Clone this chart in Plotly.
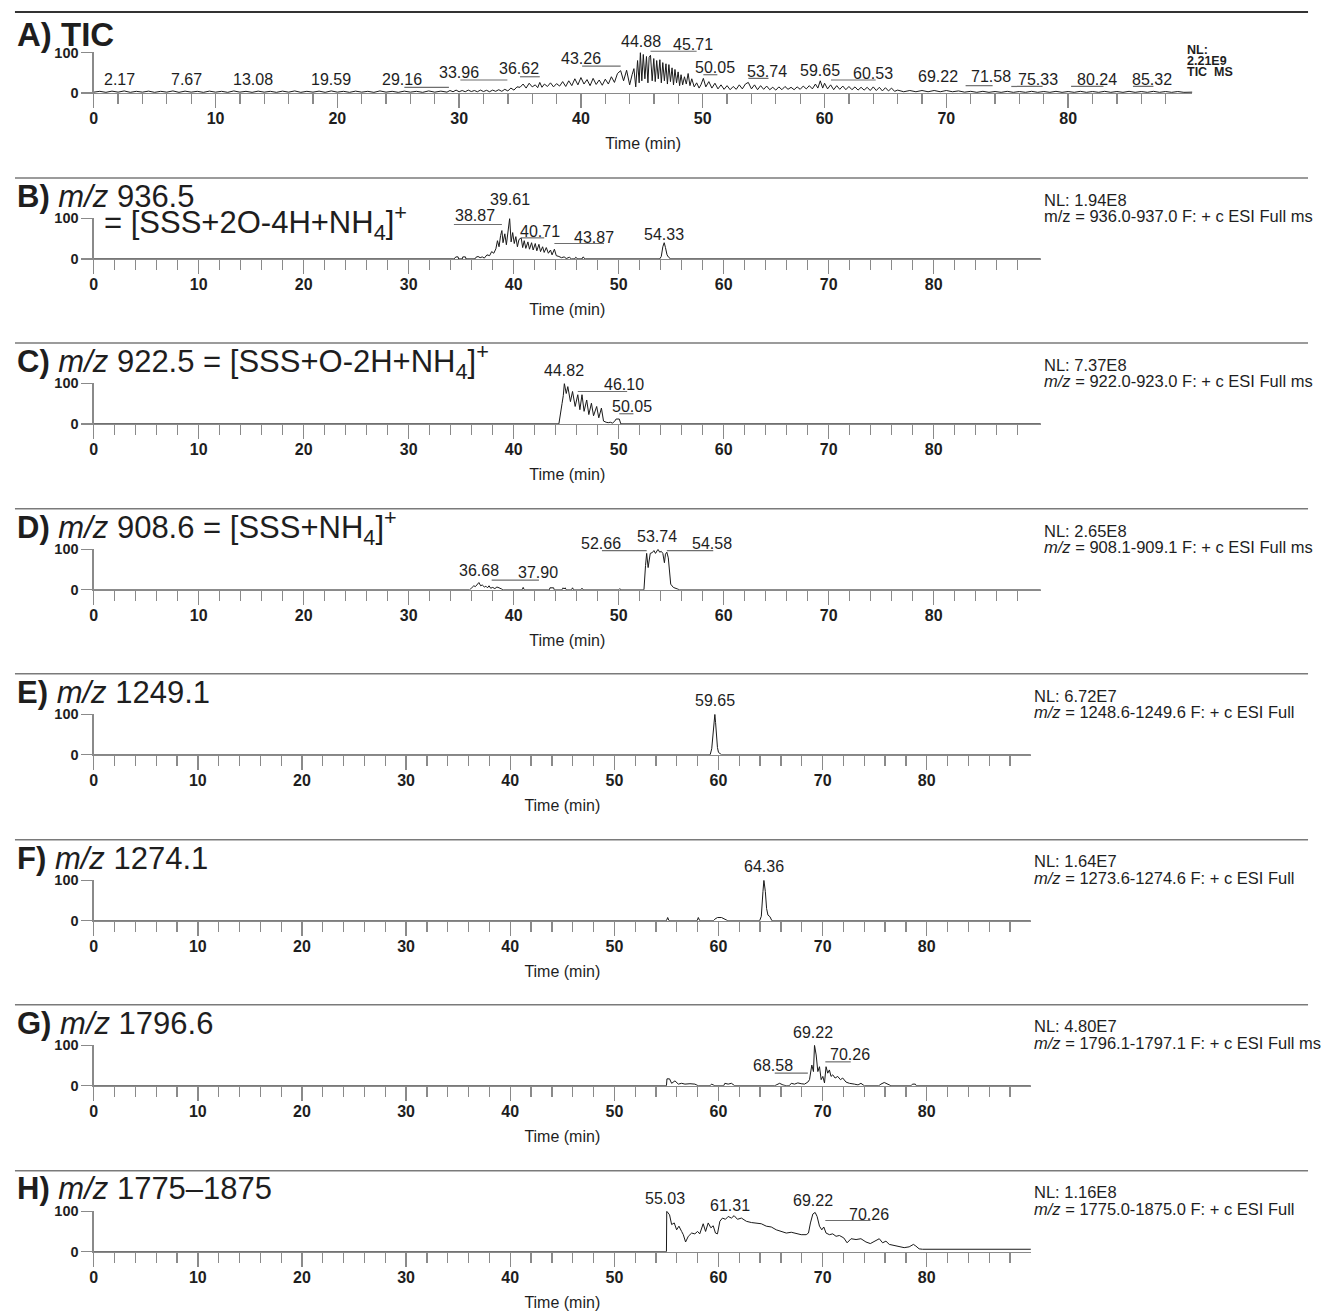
import plotly.graph_objects as go

# ---------------- data ----------------
# A) TIC
tic_time = [0.0, 0.5, 1.0, 1.5, 2.0, 2.5, 3.0, 3.5, 4.0, 4.5,
            5.0, 5.5, 6.0, 6.5, 7.0, 7.5, 8.0, 8.5, 9.0, 9.5,
            10.0, 10.5, 11.0, 11.5, 12.0, 12.5, 13.0, 13.5, 14.0, 14.5,
            15.0, 15.5, 16.0, 16.5, 17.0, 17.5, 18.0, 18.5, 19.0, 19.5,
            20.0, 20.5, 21.0, 21.5, 22.0, 22.5, 23.0, 23.5, 24.0, 24.5,
            25.0, 25.5, 26.0, 26.5, 27.0, 27.5, 28.0, 28.5, 29.0, 29.25,
            29.5, 29.75, 30.0, 30.25, 30.5, 30.75, 31.0, 31.25, 31.5, 31.75,
            32.0, 32.25, 32.5, 32.75, 33.0, 33.25, 33.5, 33.75, 34.0, 34.25,
            34.5, 34.75, 35.0, 35.25, 35.5, 35.75, 36.0, 36.25, 36.45, 36.62,
            36.8, 37.0, 37.25, 37.5, 37.75, 38.0, 38.25, 38.5, 38.75, 39.0,
            39.25, 39.5, 39.75, 40.0, 40.25, 40.5, 40.75, 41.0, 41.25, 41.5,
            41.75, 42.0, 42.25, 42.5, 42.75, 43.0, 43.26, 43.5, 43.75, 44.0,
            44.2, 44.35, 44.5, 44.65, 44.78, 44.88, 45.0, 45.12, 45.25, 45.38,
            45.5, 45.6, 45.71, 45.85, 45.98, 46.1, 46.22, 46.35, 46.48, 46.6,
            46.72, 46.85, 46.98, 47.1, 47.22, 47.35, 47.48, 47.6, 47.72, 47.85,
            47.98, 48.1, 48.22, 48.35, 48.5, 48.65, 48.8, 48.95, 49.1, 49.3,
            49.5, 49.7, 49.85, 50.05, 50.25, 50.5, 50.75, 51.0, 51.25, 51.5,
            51.75, 52.0, 52.25, 52.5, 52.75, 53.0, 53.25, 53.5, 53.74, 54.0,
            54.25, 54.5, 54.75, 55.0, 55.25, 55.5, 55.75, 56.0, 56.25, 56.5,
            56.75, 57.0, 57.25, 57.5, 57.75, 58.0, 58.25, 58.5, 58.75, 59.0,
            59.25, 59.45, 59.65, 59.85, 60.0, 60.25, 60.5, 60.75, 61.0, 61.25,
            61.5, 61.75, 62.0, 62.25, 62.5, 62.75, 63.0, 63.25, 63.5, 63.75,
            64.0, 64.25, 64.5, 64.75, 65.0, 65.25, 65.5, 65.75, 66.0, 66.5,
            67.0, 67.5, 68.0, 68.5, 69.0, 69.5, 70.0, 70.5, 71.0, 71.5,
            72.0, 72.5, 73.0, 73.5, 74.0, 74.5, 75.0, 75.5, 76.0, 76.5,
            77.0, 77.5, 78.0, 78.5, 79.0, 79.5, 80.0, 80.5, 81.0, 81.5,
            82.0, 82.5, 83.0, 83.5, 84.0, 84.5, 85.0, 85.5, 86.0, 86.5,
            87.0, 87.5, 88.0, 88.5, 89.0, 89.5, 90.2]
tic_int = [2, 4, 1.5, 4.5, 2, 5, 1.5, 4, 2, 4.5,
           1.5, 4, 2, 5, 1.5, 4.5, 2, 4, 1.5, 4.5,
           2, 4, 1.5, 5, 2, 4, 1.5, 4.5, 2, 4,
           1.5, 4.5, 2, 5, 1.5, 4, 2, 4.5, 1.5, 5,
           2, 4, 1.5, 4.5, 2, 4, 1.5, 5, 2, 4,
           1.5, 4.5, 2, 4, 1.5, 5, 2, 4.5, 2, 6,
           3, 7, 3, 6, 3, 7, 3.5, 6, 3, 7,
           3.5, 6.5, 3, 7, 4, 8, 4, 9, 5, 12,
           7, 15, 14, 22, 12, 24, 15, 20, 13, 26,
           14, 22, 16, 25, 15, 23, 17, 28, 16, 30,
           18, 35, 20, 38, 22, 33, 18, 36, 21, 32,
           19, 34, 22, 40, 26, 48, 55, 30, 56, 20,
           45, 60, 15, 80, 25, 100, 30, 95, 35, 90,
           25, 88, 93, 30, 85, 28, 80, 35, 82, 25,
           75, 30, 72, 22, 70, 28, 62, 20, 58, 25,
           52, 18, 45, 20, 40, 22, 48, 18, 35, 15,
           25, 12, 20, 36, 15, 28, 12, 24, 10, 20,
           9, 18, 8, 16, 9, 20, 10, 22, 26, 10,
           20, 8, 18, 9, 17, 8, 14, 7, 15, 8,
           16, 9, 14, 8, 15, 9, 17, 10, 18, 10,
           22, 12, 30, 12, 24, 10, 20, 8, 18, 9,
           17, 8, 16, 8, 15, 7, 14, 7, 14, 6,
           15, 6, 14, 5, 13, 5, 12, 4, 7, 3,
           6, 3, 6, 3, 6, 3, 6, 3, 5, 2,
           4, 1.5, 4, 1.5, 3.5, 1.5, 4, 1.5, 3.5, 1.5,
           4, 1.5, 3.5, 1.5, 4, 1.5, 3.5, 1.5, 4, 1.5,
           3.5, 1.5, 4, 1.5, 3.5, 1.5, 4, 1.5, 3.5, 1.5,
           4, 1.5, 3.5, 1.5, 3.5, 1.5, 2]

# B) m/z 936.5
b_time = [0.0, 34.3, 34.5, 34.7, 34.75, 35.1, 35.15, 35.4, 35.45, 36.3,
          36.4, 36.6, 36.8, 37.0, 37.2, 37.45, 37.7, 37.9, 38.1, 38.3,
          38.45, 38.6, 38.75, 38.87, 38.98, 39.15, 39.3, 39.45, 39.61, 39.75,
          39.9, 40.05, 40.2, 40.35, 40.5, 40.71, 40.85, 41.0, 41.15, 41.35,
          41.5, 41.7, 41.85, 42.05, 42.2, 42.4, 42.55, 42.75, 42.9, 43.1,
          43.3, 43.5, 43.65, 43.87, 44.05, 44.3, 44.55, 44.8, 45.0, 45.3,
          45.5, 45.8, 45.9, 46.1, 46.5, 46.6, 46.8, 53.9, 54.05, 54.2,
          54.33, 54.45, 54.6, 54.75, 54.95, 90.2]
b_int = [0, 0, 5, 5, 0, 0, 5, 5, 0, 0,
         4, 6, 3, 5, 2, 10, 8, 18, 14, 25,
         45, 30, 58, 70, 40, 62, 35, 70, 100, 42,
         65, 38, 55, 30, 48, 52, 28, 45, 26, 42,
         24, 40, 22, 38, 20, 36, 18, 30, 16, 28,
         14, 22, 10, 24, 8, 6, 3, 5, 1, 4,
         0, 0, 4, 0, 0, 5, 0, 0, 6, 30,
         40, 28, 10, 4, 0, 0]

# C) m/z 922.5
c_time = [0.0, 44.3, 44.6, 44.72, 44.82, 45.0, 45.15, 45.4, 45.6, 45.85,
          46.1, 46.3, 46.5, 46.7, 46.95, 47.15, 47.4, 47.6, 47.9, 48.1,
          48.35, 48.55, 48.8, 49.0, 49.2, 49.4, 49.6, 49.75, 50.05, 50.2, 90.2]
c_int = [0, 0, 50, 70, 100, 75, 92, 55, 80, 43,
         72, 35, 72, 31, 59, 23, 51, 20, 43, 15,
         39, 7, 4, 3, 4, 2, 6, 12, 12, 0, 0]

# D) m/z 908.6
d_time = [0.0, 35.8, 36.0, 36.2, 36.35, 36.5, 36.68, 36.85, 37.0, 37.2,
          37.35, 37.5, 37.65, 37.8, 38.0, 38.2, 38.4, 38.6, 38.8, 39.0,
          40.8, 40.9, 41.0, 43.4, 43.45, 43.8, 43.85, 44.6, 44.7, 44.8,
          44.9, 45.0, 45.5, 45.6, 45.7, 46.4, 46.5, 46.6, 50.0, 50.1,
          50.2, 52.4, 52.55, 52.66, 52.8, 53.0, 53.2, 53.35, 53.5, 53.6,
          53.74, 53.9, 54.05, 54.2, 54.35, 54.45, 54.58, 54.72, 54.85, 54.95,
          55.2, 55.5, 55.8, 90.2]
d_int = [0, 0, 5, 10, 8, 14, 18, 10, 12, 7,
         9, 5, 10, 4, 6, 3, 7, 5, 2, 0,
         0, 6, 0, 0, 5, 5, 0, 0, 5, 2,
         5, 0, 0, 5, 0, 0, 4, 0, 0, 3,
         0, 0, 60, 90, 55, 90, 92, 97, 90, 95,
         100, 93, 95, 90, 67, 88, 93, 79, 40, 14,
         6, 2, 0, 0]

# E) m/z 1249.1
e_time = [0.0, 59.2, 59.35, 59.5, 59.6, 59.65, 59.72, 59.8, 59.9, 60.0, 60.15, 60.3, 90.0]
e_int = [0, 0, 15, 55, 90, 100, 80, 45, 18, 6, 2, 0, 0]

# F) m/z 1274.1
f_time = [0.0, 55.0, 55.12, 55.25, 57.95, 58.06, 58.2, 59.5, 59.65, 59.9,
          60.29, 60.54, 60.77, 60.9, 63.95, 64.11, 64.27, 64.36, 64.5, 64.62,
          64.75, 64.94, 65.13, 90.0]
f_int = [0, 0, 8, 0, 0, 8, 0, 0, 4, 8,
         8, 5, 2, 0, 0, 11, 72, 100, 72, 30,
         14, 10, 0, 0]

# G) m/z 1796.6
g_time = [0.0, 55.0, 55.05, 55.3, 55.5, 55.82, 56.14, 56.46, 56.78, 57.26,
          57.73, 58.05, 59.2, 59.33, 59.65, 60.5, 60.61, 60.93, 61.24, 61.56,
          65.4, 65.55, 65.87, 66.19, 66.5, 66.8, 66.99, 67.3, 67.62, 67.94,
          68.26, 68.58, 68.74, 68.96, 69.12, 69.22, 69.38, 69.54, 69.7, 69.86,
          70.02, 70.18, 70.33, 70.49, 70.65, 70.81, 70.97, 71.2, 71.45, 71.71,
          71.93, 72.25, 72.57, 73.05, 73.4, 73.68, 74.0, 75.4, 75.6, 75.92,
          76.24, 76.56, 78.5, 78.63, 78.9, 79.0, 90.0]
g_int = [0, 0, 17, 17, 6, 12, 4, 6, 4, 5,
         4, 0, 0, 4, 0, 0, 6, 4, 6, 0,
         0, 2, 6, 2, 0, 0, 6, 4, 7, 5,
         4, 9, 15, 51, 35, 100, 76, 35, 47, 15,
         23, 7, 47, 31, 39, 23, 27, 19, 23, 15,
         19, 9, 6, 4, 2, 6, 0, 0, 4, 8,
         4, 0, 0, 4, 4, 0, 0]

# H) m/z 1775-1875
h_time = [0.0, 55.0, 55.03, 55.3, 55.5, 55.75, 55.98, 56.2, 56.46, 56.62,
          56.84, 57.1, 57.42, 57.73, 57.99, 58.2, 58.53, 58.76, 59.01, 59.27,
          59.49, 59.71, 59.9, 60.13, 60.38, 60.67, 60.93, 61.24, 61.5, 61.82,
          62.2, 62.68, 63.16, 63.64, 64.11, 64.59, 65.07, 65.55, 66.03, 66.51,
          66.99, 67.46, 67.94, 68.42, 68.64, 68.83, 69.06, 69.28, 69.47, 69.7,
          69.92, 70.11, 70.33, 70.65, 70.97, 71.29, 71.61, 72.03, 72.35, 72.73,
          73.21, 73.68, 74.16, 74.58, 74.96, 75.44, 75.76, 76.08, 76.4, 76.88,
          77.35, 77.83, 78.31, 78.72, 78.95, 79.27, 79.59, 90.0]
h_int = [0, 0, 100, 91, 67, 71, 54, 63, 50, 42,
         24, 38, 46, 44, 50, 44, 69, 50, 71, 59,
         64, 46, 44, 75, 83, 80, 87, 83, 89, 80,
         83, 75, 72, 71, 69, 63, 61, 54, 50, 46,
         48, 45, 42, 42, 46, 71, 93, 97, 87, 63,
         54, 61, 46, 42, 44, 38, 40, 34, 22, 32,
         30, 32, 24, 20, 26, 32, 22, 26, 18, 15,
         12, 10, 12, 18, 14, 7, 6, 6]

# axis tick labels
x_ticks = [0, 10, 20, 30, 40, 50, 60, 70, 80]
x_minor = [2, 4, 6, 8, 12, 14, 16, 18, 22, 24, 26, 28, 32, 34, 36, 38, 42, 44, 46, 48,
           52, 54, 56, 58, 62, 64, 66, 68, 72, 74, 76, 78, 82, 84, 86, 88]
y_ticks = [0, 100]

# panel texts
titles = ["<b>A) TIC</b>",
          "<b>B)</b> <i>m/z</i> 936.5",
          "<b>C)</b> <i>m/z</i> 922.5 = [SSS+O-2H+NH<sub>4</sub>]<sup>+</sup>",
          "<b>D)</b> <i>m/z</i> 908.6 = [SSS+NH<sub>4</sub>]<sup>+</sup>",
          "<b>E)</b> <i>m/z</i> 1249.1",
          "<b>F)</b> <i>m/z</i> 1274.1",
          "<b>G)</b> <i>m/z</i> 1796.6",
          "<b>H)</b> <i>m/z</i> 1775\u20131875"]
b_subtitle = "= [SSS+2O-4H+NH<sub>4</sub>]<sup>+</sup>"
nl_values = ["2.21E9", "1.94E8", "7.37E8", "2.65E8", "6.72E7", "1.64E7", "4.80E7", "1.16E8"]
nl_ranges = [None,
             "m/z = 936.0-937.0 F: + c ESI Full ms",
             "<i>m/z</i> = 922.0-923.0 F: + c ESI Full ms",
             "<i>m/z</i> = 908.1-909.1 F: + c ESI Full ms",
             "<i>m/z</i> = 1248.6-1249.6 F: + c ESI Full",
             "<i>m/z</i> = 1273.6-1274.6 F: + c ESI Full",
             "<i>m/z</i> = 1796.1-1797.1 F: + c ESI Full ms",
             "<i>m/z</i> = 1775.0-1875.0 F: + c ESI Full"]

# peak labels: text, time of label centre, height (% of axis)
a_lab_text = ["2.17", "7.67", "13.08", "19.59", "29.16", "33.96", "36.62", "43.26", "44.88", "45.71",
              "50.05", "53.74", "59.65", "60.53", "69.22", "71.58", "75.33", "80.24", "85.32"]
a_lab_t = [2.1, 7.64, 13.1, 19.5, 25.3, 30.0, 34.9, 40.0, 44.9, 49.2,
           51.0, 55.3, 59.6, 64.0, 69.3, 73.7, 77.5, 82.4, 86.9]
a_lab_y = [32, 32, 32, 32, 32, 50, 60, 85, 127, 119,
           63, 53, 55, 48, 40, 40, 32, 32, 32]
a_ul_t0 = [25.5, 30.1, 35.0, 40.1, 45.71, 50.05, 53.74, 60.53, 71.58, 75.33, 80.24, 85.32]
a_ul_t1 = [29.16, 33.96, 36.62, 43.26, 49.5, 51.2, 55.4, 64.2, 73.8, 77.9, 82.9, 87.0]
a_ul_y = [14, 32, 40, 66, 103, 45, 36, 32, 18, 16, 16, 16]

b_lab_text = ["38.87", "39.61", "40.71", "43.87", "54.33"]
b_lab_t = [36.3, 39.61, 42.5, 47.6, 54.33]
b_lab_y = [108, 146, 68, 52, 60]
b_ul_t0 = [34.3, 40.71, 43.87]
b_ul_t1 = [38.87, 42.9, 48.6]
b_ul_y = [85, 52, 38]

c_lab_text = ["44.82", "46.10", "50.05"]
c_lab_t = [44.82, 50.5, 51.3]
c_lab_y = [133, 98, 43]
c_ul_t0 = [46.1, 50.05]
c_ul_t1 = [50.8, 51.4]
c_ul_y = [80, 25]

d_lab_text = ["36.68", "37.90", "52.66", "53.74", "54.58"]
d_lab_t = [36.68, 42.3, 48.3, 53.66, 58.9]
d_lab_y = [48, 42, 115, 132, 115]
d_ul_t0 = [37.9, 48.4, 54.58]
d_ul_t1 = [42.4, 52.66, 59.0]
d_ul_y = [24, 97, 97]

e_lab_text = ["59.65"]
e_lab_t = [59.65]
e_lab_y = [133]

f_lab_text = ["64.36"]
f_lab_t = [64.36]
f_lab_y = [133]

g_lab_text = ["68.58", "69.22", "70.26"]
g_lab_t = [65.2, 69.1, 72.6]
g_lab_y = [51, 131, 77]
g_ul_t0 = [65.4, 70.26]
g_ul_t1 = [68.58, 72.7]
g_ul_y = [31, 59]

h_lab_text = ["55.03", "61.31", "69.22", "70.26"]
h_lab_t = [54.9, 61.1, 69.06, 74.5]
h_lab_y = [132, 115, 126, 93]
h_ul_t0 = [70.26]
h_ul_t1 = [74.6]
h_ul_y = [77]

# ---------------- layout constants (pixels) ----------------
W, H = 1321, 1316
SEP = [4, 172, 339, 507, 674, 842, 1009, 1177]
XEND = [1192, 1040, 1040, 1040, 1030, 1030, 1030, 1030]
XMAX = [90.2, 90.2, 90.2, 90.2, 90.0, 90.0, 90.0, 90.0]
NLX = [1185, 1041, 1041, 1041, 1031, 1031, 1031, 1031]
FONT = "Liberation Sans, Arial, Helvetica, sans-serif"
AXC = "#8a8a8a"
TXT = "#1e1e1e"
TRACE = "#1a1a1a"


def py(p):
    return 1 - p / H


def px(p):
    return p / W


def ypct(i, pct):
    return py(SEP[i] + 82 - pct / 100.0 * 41)


series = [(tic_time, tic_int), (b_time, b_int), (c_time, c_int), (d_time, d_int),
          (e_time, e_int), (f_time, f_int), (g_time, g_int), (h_time, h_int)]
labels = [(a_lab_text, a_lab_t, a_lab_y), (b_lab_text, b_lab_t, b_lab_y),
          (c_lab_text, c_lab_t, c_lab_y), (d_lab_text, d_lab_t, d_lab_y),
          (e_lab_text, e_lab_t, e_lab_y), (f_lab_text, f_lab_t, f_lab_y),
          (g_lab_text, g_lab_t, g_lab_y), (h_lab_text, h_lab_t, h_lab_y)]
underlines = [(a_ul_t0, a_ul_t1, a_ul_y), (b_ul_t0, b_ul_t1, b_ul_y),
              (c_ul_t0, c_ul_t1, c_ul_y), (d_ul_t0, d_ul_t1, d_ul_y),
              ([], [], []), ([], [], []),
              (g_ul_t0, g_ul_t1, g_ul_y), (h_ul_t0, h_ul_t1, h_ul_y)]

fig = go.Figure()
annotations = []
shapes = []
layout_axes = {}

for i in range(8):
    n = '' if i == 0 else str(i + 1)
    S = SEP[i]
    t, v = series[i]
    fig.add_trace(go.Scatter(x=t, y=v, mode='lines', line=dict(color=TRACE, width=1),
                             xaxis='x' + n, yaxis='y' + n, hoverinfo='skip', showlegend=False))

    layout_axes['xaxis' + n] = dict(
        domain=[px(90), px(XEND[i])], range=[0, XMAX[i]], anchor='y' + n,
        showline=True, linecolor=AXC, linewidth=1.3, mirror=False,
        ticks='outside', tickmode='array', tickvals=x_ticks, ticklen=14, tickwidth=1.3, tickcolor=AXC,
        minor=dict(tickmode='array', tickvals=x_minor, ticks='outside', ticklen=10, tickwidth=1.3,
                   tickcolor=AXC, showgrid=False),
        ticklabelstandoff=-3,
        showgrid=False, zeroline=False,
        tickfont=dict(family=FONT, size=16, color=TXT, weight='bold'),
        title=dict(text='Time (min)', font=dict(family=FONT, size=16, color=TXT), standoff=11),
        fixedrange=True)
    layout_axes['yaxis' + n] = dict(
        domain=[py(S + 82), py(S + 41)], range=[0, 100], anchor='x' + n,
        showline=True, linecolor=AXC, linewidth=1.3,
        ticks='outside', tickmode='array', tickvals=y_ticks, ticklen=11, tickwidth=1.3, tickcolor=AXC,
        showgrid=False, zeroline=False,
        tickfont=dict(family=FONT, size=14.5, color=TXT, weight='bold'),
        fixedrange=True)

    # separator line above the panel
    shapes.append(dict(type='line', xref='paper', yref='paper', x0=px(11), x1=px(1308),
                       y0=py(S), y1=py(S),
                       line=dict(color='#333333' if i == 0 else '#7a7a7a', width=2 if i == 0 else 1.5)))

    # title
    annotations.append(dict(text=titles[i], xref='paper', yref='paper', x=px(11),
                            y=py(S + (22.5 if i == 0 else 18.5)), xanchor='left', yanchor='middle',
                            showarrow=False, font=dict(family=FONT, size=33 if i == 0 else 31, color=TXT)))

    # NL block
    if i == 0:
        for k, (txt, yy) in enumerate([("NL:", 43), (nl_values[0], 54), ("TIC  MS", 65)]):
            annotations.append(dict(text="<b>%s</b>" % txt, xref='paper', yref='paper', x=px(NLX[0]),
                                    y=py(yy), xanchor='left', yanchor='middle', showarrow=False,
                                    font=dict(family=FONT, size=12.5, color=TXT)))
    else:
        annotations.append(dict(text="NL: " + nl_values[i], xref='paper', yref='paper', x=px(NLX[i]),
                                y=py(S + 22), xanchor='left', yanchor='middle', showarrow=False,
                                font=dict(family=FONT, size=16.5, color=TXT)))
        annotations.append(dict(text=nl_ranges[i], xref='paper', yref='paper', x=px(NLX[i]),
                                y=py(S + 39), xanchor='left', yanchor='middle', showarrow=False,
                                font=dict(family=FONT, size=16.5, color=TXT)))

    # peak labels
    lt, lx, ly = labels[i]
    for k in range(len(lt)):
        annotations.append(dict(text=lt[k], xref='x' + n, yref='paper', x=lx[k], y=ypct(i, ly[k]),
                                xanchor='center', yanchor='middle', showarrow=False,
                                font=dict(family=FONT, size=16, color=TXT)))
    u0, u1, uy = underlines[i]
    for k in range(len(u0)):
        shapes.append(dict(type='line', xref='x' + n, yref='paper', x0=u0[k], x1=u1[k],
                           y0=ypct(i, uy[k]), y1=ypct(i, uy[k]),
                           line=dict(color='#6e6e6e', width=1.2)))

# B subtitle line
annotations.append(dict(text=b_subtitle, xref='paper', yref='paper', x=px(98), y=py(SEP[1] + 45),
                        xanchor='left', yanchor='middle', showarrow=False,
                        font=dict(family=FONT, size=31, color=TXT)))

fig.update_layout(width=W, height=H, margin=dict(l=0, r=0, t=0, b=0),
                  paper_bgcolor='white', plot_bgcolor='white',
                  annotations=annotations, shapes=shapes, showlegend=False,
                  font=dict(family=FONT, color=TXT), **layout_axes)

fig.write_html("out.html", config={'displayModeBar': False, 'staticPlot': True},
               post_script="document.body.style.margin='0px';document.body.style.overflow='hidden';")
